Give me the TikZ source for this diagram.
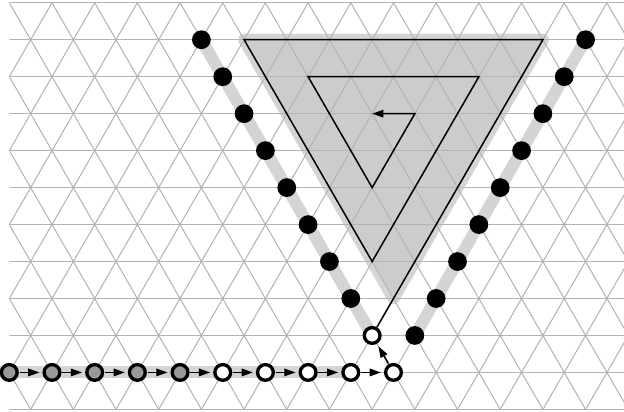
\documentclass[tikz,border=0pt]{standalone}
\usepackage{tikz}
\usetikzlibrary{arrows.meta}
\definecolor{LatGrid}{HTML}{B4B4B4}
\definecolor{LatBand}{HTML}{D4D4D4}
\definecolor{LatFill}{HTML}{CCCCCC}
\definecolor{LatVisit}{HTML}{999999}

\begin{document}
\begin{tikzpicture}[x=1cm,y=0.866cm,
      latline/.style={draw=LatGrid,line width=0.7pt},
      band/.style={draw=LatBand,line width=8pt,line join=round},
      dot/.style={circle,fill=black,minimum size=12.5pt,inner sep=0pt},
      site/.style={circle,draw=black,line width=2.2pt,fill=white,
                   minimum size=10.5pt,inner sep=0pt},
      visited/.style={site,fill=LatVisit},
      hop/.style={-{Triangle[length=7.5pt,width=5pt]},line width=1pt,
                  shorten >=2pt,shorten <=0.5pt},
      walk/.style={line width=1pt,-{Triangle[length=7.5pt,width=5pt]}}]
    \useasboundingbox (-0.218,-1.044) rectangle (14.40,10.075);
    \coordinate (tA) at (5.5,9);
    \coordinate (tB) at (12.5,9);
    \coordinate (tC) at (9,2);
    \draw[band] (tA) -- (tB) -- (tC) -- cycle;
    \fill[LatFill] (tA) -- (tB) -- (tC) -- cycle;
    \begin{scope}
      \clip (0,-1) rectangle (14.5,10);
      \foreach \j in {-1,...,10}
        \draw[latline] (0,\j) -- (14.5,\j);
      \foreach \c in {-6,...,15}
        \draw[latline] (\c-0.5,-1) -- (\c+5,10);
      \foreach \c in {0,...,21}
        \draw[latline] (\c+0.5,-1) -- (\c-5,10);
    \end{scope}
    \coordinate (bl) at (-0.5,0);
    \coordinate (w0) at (8.5,1);
    \coordinate (l0) at (4.5,9);
    \coordinate (r0) at (13.5,9);
    \coordinate (r8) at (9.5,1);
    \coordinate (b8) at (8,0);
    \draw[band] (bl) -- (b8);
    \draw[band] (l0) -- (w0);
    \draw[band] (r0) -- (r8);
    \node[site] (w) at (w0) {};
    \foreach \k in {0,...,7}
      \node[dot] (l\k) at ({4.5+0.5*\k},{9-\k}) {};
    \foreach \k in {0,...,8}
      \node[dot] (r\k) at ({13.5-0.5*\k},{9-\k}) {};
    \foreach \k in {0,...,4}
      \node[visited] (b\k) at (\k,0) {};
    \foreach \k in {5,...,9}
      \node[site] (b\k) at (\k,0) {};
    \coordinate (s3) at (8.5,3);
    \coordinate (s4) at (11,8);
    \coordinate (s5) at (7,8);
    \coordinate (s6) at (8.5,5);
    \coordinate (s7) at (9.5,7);
    \coordinate (s8) at (8.5,7);
    \draw[walk] (w) -- (tB) -- (tA) -- (s3) -- (s4) -- (s5) -- (s6) -- (s7) -- (s8);
    \foreach \k [count=\n from 1] in {0,...,8}
      \draw[hop] (b\k) -- (b\n);
    \draw[hop] (b9) -- (w);
  \end{tikzpicture}
\end{document}
